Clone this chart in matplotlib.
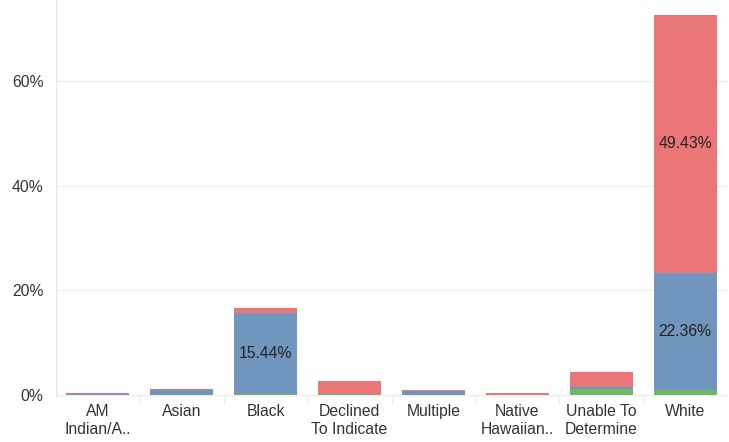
import numpy as np
import matplotlib.pyplot as plt

categories = ['AM\nIndian/A..', 'Asian', 'Black', 'Declined\nTo Indicate',
              'Multiple', 'Native\nHawaiian..', 'Unable To\nDetermine', 'White']
# stacked shares in percent, bottom to top
green_vals = [0.0, 0.0, 0.25, 0.2, 0.0, 0.0, 1.1, 1.0]
blue_vals = [0.15, 1.0, 15.44, 0.0, 0.7, 0.0, 0.4, 22.36]
red_vals = [0.3, 0.2, 0.9, 2.5, 0.3, 0.3, 2.9, 49.43]
labelled = {(2, 'blue'): '15.44%', (7, 'blue'): '22.36%', (7, 'red'): '49.43%'}

colors = {'green': '#6db66a', 'blue': '#7096bd', 'red': '#ea7677'}

plt.rcParams['font.family'] = ['Liberation Sans', 'DejaVu Sans']

fig = plt.figure(figsize=(7.29, 4.42), dpi=100)
ax = fig.add_axes([56 / 729, 45 / 442, 671 / 729, 397 / 442])

x = np.arange(len(categories))
bottom = np.zeros(len(categories))
for name, vals in [('green', green_vals), ('blue', blue_vals), ('red', red_vals)]:
    vals = np.array(vals)
    ax.bar(x, vals, width=0.75, bottom=bottom, color=colors[name], linewidth=0)
    for i, v in enumerate(vals):
        if (i, name) in labelled:
            ax.text(i, bottom[i] + v / 2, labelled[(i, name)], ha='center', va='center',
                    fontsize=11.3, color='#222222')
    bottom += vals

ax.set_xlim(-0.5, len(categories) - 0.5)
ax.set_ylim(-0.4, 75.6)
ax.set_yticks([0, 20, 40, 60])
ax.set_yticklabels(['0%', '20%', '40%', '60%'])
ax.set_xticks(x)
ax.set_xticklabels(categories, linespacing=1.25)
ax.set_xticks(np.arange(len(categories) - 1) + 0.5, minor=True)

ax.grid(axis='y', color='#efefef', linewidth=1)
ax.set_axisbelow(True)
for s in ['top', 'right', 'bottom']:
    ax.spines[s].set_visible(False)
ax.spines['left'].set_color('#e6e6e6')
ax.tick_params(axis='y', length=0, labelsize=11.3, labelcolor='#333333', pad=9)
ax.tick_params(axis='x', which='major', length=0, labelsize=11.3, labelcolor='#333333', pad=5)
ax.tick_params(axis='x', which='minor', length=4, color='#e6e6e6')
ax.axhline(-0.4, color='#e6e6e6', linewidth=1)

fig.savefig('out.png', dpi=100)
